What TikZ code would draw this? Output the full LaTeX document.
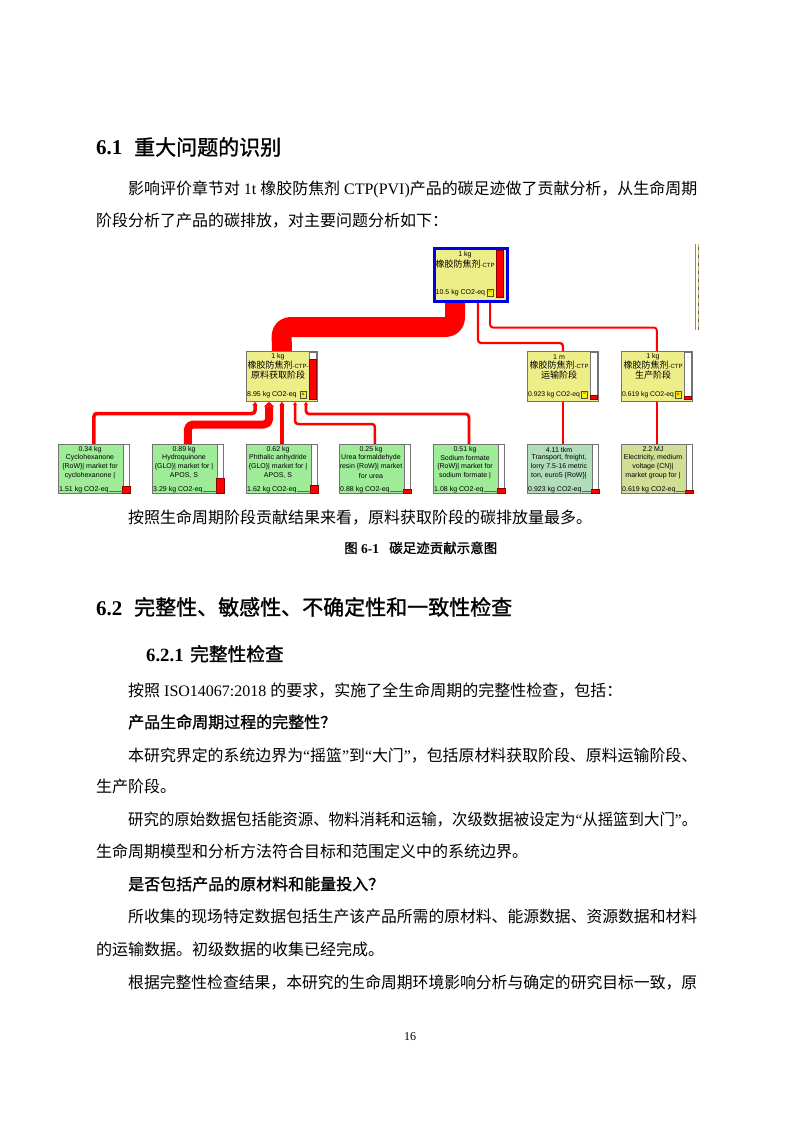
\documentclass[tikz,border=0pt]{standalone}
\usepackage{fontspec}
\usepackage{graphicx}
\setmainfont{Liberation Serif}
\newfontfamily\cjk{Noto Sans CJK SC}
\newfontfamily\cjkB[FakeBold=1.2]{Noto Sans CJK SC}
\newfontfamily\dsans{Liberation Sans}
\usetikzlibrary{calc,arrows.meta}
\XeTeXlinebreaklocale "zh"
\XeTeXlinebreakskip=0pt plus 3pt
\pgfdeclarelayer{bg}
\pgfsetlayers{bg,main}
\definecolor{ctpY}{HTML}{EEEE88}
\definecolor{ctpBlue}{HTML}{0000E6}
\definecolor{leafG}{HTML}{9EEC98}
\definecolor{leafT}{HTML}{B2DDBA}
\definecolor{leafE}{HTML}{D0DE96}
\newcommand\bodyfont{\fontsize{16}{20}\selectfont}
\newcommand\latn[1]{{\rmfamily #1}}
\newcommand\ctp[1]{{\dsans\fontsize{6}{7}\selectfont #1}}
\newsavebox\jbox
\newcommand\jline[2]{\sbox\jbox{#2}\ifdim\wd\jbox>#1\relax\resizebox{#1}{\height}{\usebox\jbox}\else\makebox[#1][s]{#2}\fi}
\tikzset{
  ybox/.style={draw=black!55, line width=0.8pt, fill=ctpY, anchor=north west, minimum width=71pt, minimum height=50pt, inner sep=0pt},
  leafbox/.style={draw=black!55, line width=0.8pt, anchor=north west, minimum width=71pt, minimum height=49pt, inner sep=0pt},
  topbox/.style={draw=ctpBlue, line width=3pt, fill=ctpY, anchor=north west, minimum width=73pt, minimum height=53pt, inner sep=0pt},
  barbox/.style={draw=black!55, line width=0.6pt, fill=white, anchor=north east, minimum width=6.5pt, inner sep=0pt},
  barred/.style={fill=red, draw=red!55!black, line width=0.5pt},
  pmbox/.style={draw=black!70, fill=yellow, line width=0.5pt, minimum width=6pt, minimum height=6.5pt, inner sep=0pt, font=\dsans\fontsize{6}{6}\selectfont},
  dtxt/.style={inner sep=0pt, font=\dsans\fontsize{7}{8}\selectfont},
  dcjk/.style={inner sep=0pt, font=\cjk\fontsize{9}{10}\selectfont},
  flow/.style={draw=red, line join=round, rounded corners=3pt},
  uptip/.style={arrows={Triangle[length=2.5pt 0.3,width=1pt 1.15]-}},
  btxt/.style={anchor=base west, inner sep=0pt, font=\bodyfont},
  htxt/.style={anchor=base west, inner sep=0pt, font=\fontsize{21}{24}\selectfont},
}
\newcommand\leaf[9]{%
  \node[leafbox, fill=#3] (#1) at (#2,444) {};
  \node[barbox, minimum height=48.5pt] (#1bar) at (#1.north east) {};
  \filldraw[barred] (#1bar.south west) rectangle (#1bar.east |- 0,#9);
  \node[dtxt] (#1l0) at ($(#1.north west)+(32,5.5)$) {#4};
  \node[dtxt] (#1l1) at ($(#1.north west)+(32,14)$) {#5};
  \node[dtxt] (#1l2) at ($(#1.north west)+(32,23)$) {#6};
  \node[dtxt] (#1l3) at ($(#1.north west)+(32,32)$) {#7};
  \node[dtxt, anchor=west] (#1v) at ($(#1.north west)+(1,46)$) {#8};
  \draw[black!60, line width=0.6pt] (#1v.east |- 0,491.5) -- (#1bar.west |- 0,491.5);
}
\begin{document}
\begin{tikzpicture}[x=1pt,y=-1pt]
\useasboundingbox (0,0) rectangle (794,1123);
\begin{pgfonlayer}{bg}
\fill[white] (0,0) rectangle (794,1123);
\end{pgfonlayer}

% ---------- text above diagram ----------
\node[htxt] (h1n) at (96,155) {\bfseries 6.1};
\node[htxt] (h1t) at (134,155) {\cjkB 重大问题的识别};
\node[btxt] (p1) at (128,195) {\jline{569pt}{\cjk 影响评价章节对\latn{ 1t }橡胶防焦剂\latn{ CTP(PVI)}产品的碳足迹做了贡献分析，从生命周期}};
\node[btxt] (p2) at (96,226) {\cjk 阶段分析了产品的碳排放，对主要问题分析如下：};

% ---------- diagram ----------
\node[topbox] (T) at (432.5,246.5) {};
\node[barbox, anchor=north west, minimum height=47pt, fill=red, draw=red!55!black] (Tbar) at (496,250) {};
\node[dtxt] (Tq) at (465,255) {1 kg};
\node[dcjk] (Tn) at (465,264) {橡胶防焦剂\ctp{-CTP}};
\node[dtxt, anchor=west] (Tv) at (435.5,293) {10.5 kg CO2-eq};
\node[pmbox] (Tpm) at (490,292.5) {\char"2212};

\node[ybox] (mA) at (246,351) {};
\node[barbox, minimum height=47pt] (mAbar) at (316.5,352) {};
\filldraw[barred] (mAbar.south west) rectangle (mAbar.east |- 0,359);
\node[dtxt] (mAq) at (278,357) {1 kg};
\node[dcjk] (mAn) at (278,365.5) {橡胶防焦剂\ctp{-CTP-}};
\node[dcjk] (mAs) at (278,375) {原料获取阶段};
\node[dtxt, anchor=west] (mAv) at (247,395) {8.95 kg CO2-eq};
\node[pmbox] (mApm) at (303,394.5) {+};

\node[ybox] (mB) at (527,351) {};
\node[barbox, minimum height=47pt] (mBbar) at (597.5,352) {};
\filldraw[barred] (mBbar.south west) rectangle (mBbar.east |- 0,395);
\node[dtxt] (mBq) at (559,357) {1 m};
\node[dcjk] (mBn) at (559,365.5) {橡胶防焦剂\ctp{-CTP}};
\node[dcjk] (mBs) at (559,375) {运输阶段};
\node[dtxt, anchor=west, font=\dsans\fontsize{6.8}{8}\selectfont] (mBv) at (528,395) {0.923 kg CO2-eq};
\node[pmbox] (mBpm) at (584.5,394.5) {\char"2212};

\node[ybox] (mC) at (621,351) {};
\node[barbox, minimum height=47pt] (mCbar) at (691.5,352) {};
\filldraw[barred] (mCbar.south west) rectangle (mCbar.east |- 0,396);
\node[dtxt] (mCq) at (653,357) {1 kg};
\node[dcjk] (mCn) at (653,365.5) {橡胶防焦剂\ctp{-CTP}};
\node[dcjk] (mCs) at (653,375) {生产阶段};
\node[dtxt, anchor=west, font=\dsans\fontsize{6.8}{8}\selectfont] (mCv) at (622,395) {0.619 kg CO2-eq};
\node[pmbox] (mCpm) at (678,394.5) {+};

\leaf{bA}{58}{leafG}{0.34 kg}{Cyclohexanone}{\{RoW\}| market for}{cyclohexanone |}{1.51 kg CO2-eq}{486}
\leaf{bB}{152}{leafG}{0.89 kg}{Hydroquinone}{\{GLO\}| market for |}{APOS, S}{3.29 kg CO2-eq}{478}
\leaf{bC}{246}{leafG}{0.62 kg}{Phthalic anhydride}{\{GLO\}| market for |}{APOS, S}{1.62 kg CO2-eq}{485}
\leaf{bD}{339}{leafG}{0.25 kg}{Urea formaldehyde}{resin \{RoW\}| market}{for urea}{0.88 kg CO2-eq}{489}
\leaf{bE}{433}{leafG}{0.51 kg}{Sodium formate}{\{RoW\}| market for}{sodium formate |}{1.08 kg CO2-eq}{488}
\leaf{bF}{527}{leafT}{4.11 tkm}{Transport, freight,}{lorry 7.5-16 metric}{ton, euro5 \{RoW\}|}{0.923 kg CO2-eq}{489}
\leaf{bG}{621}{leafE}{2.2 MJ}{Electricity, medium}{voltage \{CN\}|}{market group for |}{0.619 kg CO2-eq}{490}

% partial neighbour at the right edge
\draw[black!45, line width=1pt] (695.5,244) -- (695.5,330);
\draw[ctpY!80!black, line width=1.2pt] (698.5,244) -- (698.5,330);
\draw[violet!50!gray, line width=1.2pt, dash pattern=on 3pt off 5pt] (698.5,247) -- (698.5,330);

\begin{pgfonlayer}{bg}
\draw[flow, line width=20pt, rounded corners=9pt] (T.south -| 455,0) -- (455,327) -- (281.5,327) -- (mA.north);
\draw[flow, line width=2.3pt] (T.south -| 478,0) -- (478,343) -| (mB.north);
\draw[flow, line width=2pt] (T.south -| 490,0) -- (490,327.5) -| (mC.north);
\draw[flow, uptip, line width=3.5pt] (mA.south -| 255,0) -- (255,413.5) -| (bA.north);
\draw[flow, uptip, line width=8pt, rounded corners=5pt] (mA.south -| 269,0) -- (269,424.5) -| (bB.north);
\draw[flow, uptip, line width=3.6pt] (mA.south) -- (bC.north);
\draw[flow, uptip, line width=2.5pt] (mA.south -| 295,0) -- (295,424) -| (bD.north);
\draw[flow, uptip, line width=2.8pt] (mA.south -| 306,0) -- (306,414) -| (bE.north);
\draw[flow, line width=2.5pt] (mB.south) -- (bF.north);
\draw[flow, line width=2pt] (mC.south) -- (bG.north);
\end{pgfonlayer}

% ---------- text below diagram ----------
\node[btxt] (p3) at (128,523) {\cjk 按照生命周期阶段贡献结果来看，原料获取阶段的碳排放量最多。};
\node[anchor=base west, inner sep=0pt, font=\fontsize{13.5}{16}\selectfont] (capn) at (344,553) {{\cjkB 图}\latn{\bfseries\ 6-1}};
\node[anchor=base west, inner sep=0pt, font=\fontsize{13.5}{16}\selectfont] (capt) at (389,553) {\cjkB 碳足迹贡献示意图};

\node[htxt] (h2n) at (96,615) {\bfseries 6.2};
\node[htxt] (h2t) at (134,615) {\cjkB 完整性、敏感性、不确定性和一致性检查};
\node[anchor=base west, inner sep=0pt, font=\fontsize{18.7}{22}\selectfont] (h3n) at (146,661) {\bfseries 6.2.1};
\node[anchor=base west, inner sep=0pt, font=\fontsize{18.7}{22}\selectfont] (h3t) at (190,661) {\cjkB 完整性检查};

\node[btxt] (p4) at (128,696) {\cjk 按照\latn{ ISO14067:2018 }的要求，实施了全生命周期的完整性检查，包括：};
\node[btxt] (p5) at (128,728) {\cjkB 产品生命周期过程的完整性？};
\node[btxt] (p6) at (128,761) {\jline{569pt}{\cjk 本研究界定的系统边界为\latn{“}摇篮\latn{”}到\latn{“}大门\latn{”}，包括原材料获取阶段、原料运输阶段、}};
\node[btxt] (p7) at (96,792) {\cjk 生产阶段。};
\node[btxt] (p8) at (128,825) {\jline{569pt}{\cjk 研究的原始数据包括能资源、物料消耗和运输，次级数据被设定为\latn{“}从摇篮到大门\latn{”}。}};
\node[btxt] (p9) at (96,857) {\cjk 生命周期模型和分析方法符合目标和范围定义中的系统边界。};
\node[btxt] (p10) at (128,890) {\cjkB 是否包括产品的原材料和能量投入？};
\node[btxt] (p11) at (128,922) {\jline{569pt}{\cjk 所收集的现场特定数据包括生产该产品所需的原材料、能源数据、资源数据和材料}};
\node[btxt] (p12) at (96,955) {\cjk 的运输数据。初级数据的收集已经完成。};
\node[btxt] (p13) at (128,988) {\jline{569pt}{\cjk 根据完整性检查结果，本研究的生命周期环境影响分析与确定的研究目标一致，原}};
\node[anchor=base, inner sep=0pt, font=\fontsize{12}{14}\selectfont] (pg) at (410,1040) {16};
\end{tikzpicture}
\end{document}
